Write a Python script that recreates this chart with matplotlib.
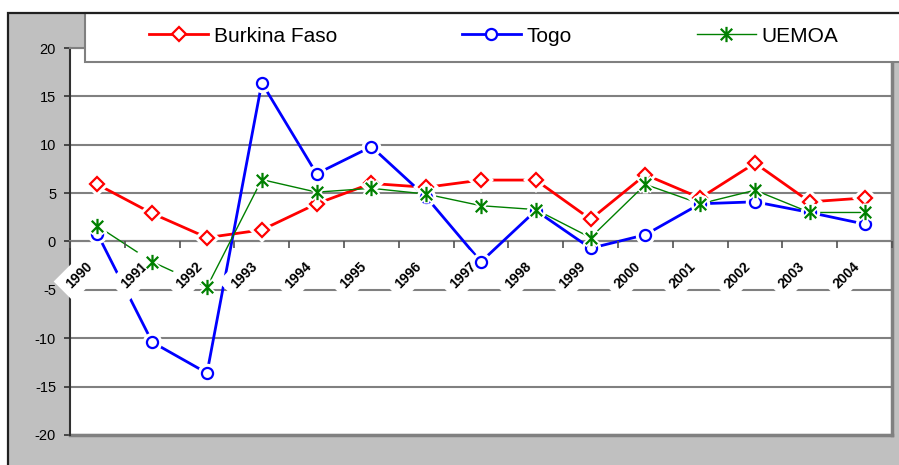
import matplotlib
matplotlib.use("Agg")
import matplotlib.pyplot as plt
import matplotlib.transforms as mtransforms
from matplotlib.patches import Rectangle
from matplotlib.path import Path

# ── Data ─────────────────────────────────────────────────────────────────────
years = ["1990", "1991", "1992", "1993", "1994", "1995", "1996", "1997",
         "1998", "1999", "2000", "2001", "2002", "2003", "2004"]

burkina = [5.9, 2.9, 0.4, 1.2, 3.9, 6.0, 5.6, 6.35, 6.35, 2.3, 6.9, 4.5, 8.1, 4.1, 4.5]
togo    = [0.8, -10.4, -13.6, 16.4, 7.0, 9.8, 4.6, -2.1, 3.2, -0.7, 0.7, 3.9, 4.1, 3.0, 1.8]
uemoa   = [1.6, -2.1, -4.7, 6.4, 5.1, 5.5, 4.9, 3.7, 3.3, 0.4, 5.9, 3.9, 5.3, 3.0, 3.0]

yticks = [-20, -15, -10, -5, 0, 5, 10, 15, 20]

plt.rcParams["font.family"] = ["Liberation Sans", "DejaVu Sans"]
plt.rcParams["axes.unicode_minus"] = False

# Excel-like star: an X with a vertical bar through it
star = Path([(-0.75, -0.75), (0.75, 0.75), (-0.75, 0.75), (0.75, -0.75),
             (0, -1), (0, 1)],
            [Path.MOVETO, Path.LINETO, Path.MOVETO, Path.LINETO,
             Path.MOVETO, Path.LINETO])

W, H = 899, 465
fig = plt.figure(figsize=(W / 100, H / 100), dpi=100, facecolor="white")

# grey chart area with black frame (top/left visible)
fig.patches.append(Rectangle((8 / W, -0.05), 1.0, 1 - 13 / H + 0.05,
                             transform=fig.transFigure, facecolor="#C0C0C0",
                             edgecolor="none", zorder=-2))

ax = fig.add_axes([70 / W, 1 - 435 / H, 822 / W, 387 / H])
ax.set_facecolor("white")

x = list(range(len(years)))

series = [
    (burkina, "Burkina Faso", "#FF0000", "D", 7, 2.0),
    (togo,    "Togo",         "#0000FF", "o", 8, 2.0),
    (uemoa,   "UEMOA",        "#008000", star, 11, 1.0),
]

# lines sit under the category labels, markers on top of them
for i, (vals, name, col, mk, ms, lw) in enumerate(series):
    ax.plot(x, vals, color=col, lw=lw, zorder=2 + i, clip_on=False)
for i, (vals, name, col, mk, ms, lw) in enumerate(series):
    z = 13 + i * 2
    ax.plot(x, vals, ls="none", marker=mk, ms=ms + 2, mfc="white",
            mec="white", mew=4, zorder=z, clip_on=False)
    ax.plot(x, vals, ls="none", marker=mk, ms=ms, mfc="white",
            mec=col, mew=1.6, zorder=z + 1, clip_on=False)

ax.set_xlim(-0.5, len(years) - 0.5)
ax.set_ylim(-20, 20)
ax.set_yticks(yticks)
ax.set_yticklabels([str(v) for v in yticks], fontsize=10.5)
ax.tick_params(axis="y", direction="out", length=4, width=1.2,
               color="#303030", pad=6)

# horizontal gridlines
ax.yaxis.grid(True, color="#808080", lw=1.5)
ax.set_axisbelow(True)

# category axis crosses at 0
ax.spines["bottom"].set_position(("data", 0))
ax.spines["bottom"].set_color("#808080")
ax.spines["bottom"].set_linewidth(1.5)
ax.spines["left"].set_color("#303030")
ax.spines["left"].set_linewidth(1.5)
ax.spines["right"].set_color("#808080")
ax.spines["right"].set_linewidth(2.5)
ax.spines["top"].set_color("#808080")
ax.spines["top"].set_linewidth(1.5)
ax.axhline(-20, color="#808080", lw=2.5, zorder=1, clip_on=False)

ax.set_xticks(x)
ax.set_xticklabels(years, rotation=45, ha="right", va="top",
                   rotation_mode="anchor", fontsize=10, fontweight="bold")
ax.set_xticks([i - 0.5 for i in range(len(years) + 1)], minor=True)
ax.tick_params(axis="x", which="major", length=0, pad=8)
ax.tick_params(axis="x", which="minor", direction="out", length=5,
               width=1.2, color="#505050")
shift = mtransforms.ScaledTranslation(-12 / 100, -7 / 100, fig.dpi_scale_trans)
for lab in ax.get_xticklabels():
    lab.set_bbox(dict(facecolor="white", edgecolor="none", pad=5))
    lab.set_transform(lab.get_transform() + shift)
ax.xaxis.set_zorder(12)

# legend box across the top
fig.patches.append(Rectangle((85 / W, 1 - 62 / H), 1.0, 49 / H,
                             transform=fig.transFigure, facecolor="white",
                             edgecolor="#808080", lw=1.5, zorder=3))
leg_handles = [plt.Line2D([], [], color=col, lw=lw, marker=mk, ms=ms,
                          mfc="white", mec=col, mew=1.6)
               for _, _, col, mk, ms, lw in series]
fig.legend(leg_handles, [s[1] for s in series], loc="center",
           bbox_to_anchor=(494 / W, 1 - 36 / H), ncol=3, frameon=False,
           fontsize=15, handlelength=2.8, handletextpad=0.3,
           columnspacing=6.0)

# outer black frame line (top and left edges)
fig.patches.append(Rectangle((8 / W, -0.05), 1.0, 1 - 13 / H + 0.05,
                             transform=fig.transFigure, facecolor="none",
                             edgecolor="#202020", lw=1.6, zorder=10))

fig.savefig("out.png", dpi=100, facecolor="white")
